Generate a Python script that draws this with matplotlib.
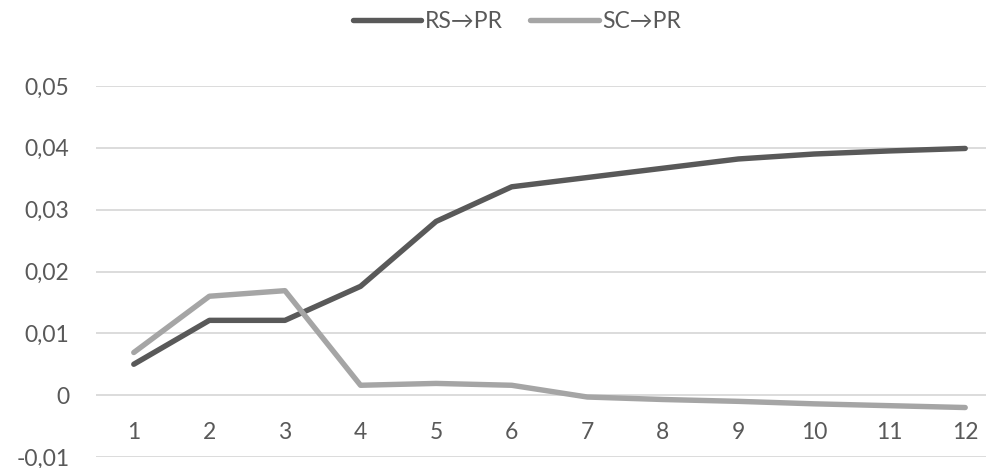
import matplotlib
matplotlib.use("Agg")
import matplotlib.pyplot as plt
from matplotlib.ticker import FuncFormatter

plt.rcParams['font.family'] = ['Lato', 'DejaVu Sans']

periods = [1, 2, 3, 4, 5, 6, 7, 8, 9, 10, 11, 12]
rs_pr = [0.0050, 0.0121, 0.0121, 0.0176, 0.0281, 0.0337, 0.0352, 0.0367, 0.0382, 0.0390, 0.0395, 0.0399]
sc_pr = [0.0069, 0.0160, 0.0169, 0.0016, 0.0019, 0.0016, -0.0003, -0.0007, -0.0010, -0.0014, -0.0017, -0.0020]
series_names = ["RS\u2192PR", "SC\u2192PR"]
y_ticks = [-0.01, 0.0, 0.01, 0.02, 0.03, 0.04, 0.05]

text_color = "#595959"
grid_color = "#D9D9D9"

fig = plt.figure(figsize=(9.86, 4.68), dpi=100)
ax = fig.add_axes([96 / 986, 1 - 457 / 468, (1003 - 96) / 986, (457 - 86) / 468])

ax.plot(periods, rs_pr, color="#595959", linewidth=3.9, solid_capstyle="round",
        solid_joinstyle="round", label=series_names[0], zorder=3)
ax.plot(periods, sc_pr, color="#A5A5A5", linewidth=3.9, solid_capstyle="round",
        solid_joinstyle="round", label=series_names[1], zorder=3)

ax.set_xlim(0.5, 12.5)
ax.set_ylim(-0.01, 0.05)
ax.set_yticks(y_ticks)
ax.yaxis.set_major_formatter(FuncFormatter(
    lambda v, _: "0" if abs(v) < 1e-12 else f"{v:.2f}".replace(".", ",")))
ax.set_xticks(periods)
ax.set_xticklabels([str(p) for p in periods])

ax.grid(axis="y", color=grid_color, linewidth=1.3, zorder=0)
ax.grid(axis="x", visible=False)
for side in ["top", "right", "left", "bottom"]:
    ax.spines[side].set_visible(False)
ax.spines["bottom"].set_position(("data", 0))

ax.tick_params(axis="y", length=0, pad=19, labelsize=16.5, labelcolor=text_color)
ax.tick_params(axis="x", length=0, pad=19, labelsize=16.5, labelcolor=text_color)

ax.legend(loc="center", bbox_to_anchor=(517 / 986, 1 - 22 / 468),
          bbox_transform=fig.transFigure, ncol=2, frameon=False,
          fontsize=16.5, labelcolor=text_color, handlelength=3.0,
          handletextpad=0.15, columnspacing=1.2)

fig.savefig("out.png", dpi=100)
